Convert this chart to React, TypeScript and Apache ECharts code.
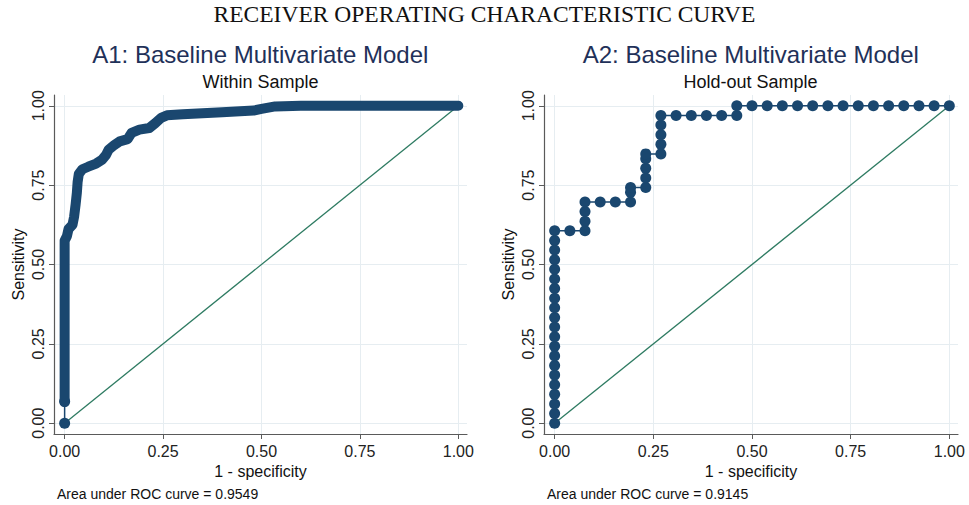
import React, { useEffect, useRef } from "react";
import * as echarts from "echarts";

// ---- Data ----
const tickValues = [0, 0.25, 0.5, 0.75, 1];
const mainTitle = "RECEIVER OPERATING CHARACTERISTIC CURVE";
const panelTitles = ["A1: Baseline Multivariate Model", "A2: Baseline Multivariate Model"];
const panelSubtitles = ["Within Sample", "Hold-out Sample"];
const aucValues = ["0.9549", "0.9145"];
const xAxisName = "1 - specificity";
const yAxisName = "Sensitivity";
const refLineX = [0, 1];
const refLineY = [0, 1];

// Within sample ROC (dense curve)
const withinTailFpr = [0, 0];
const withinTailTpr = [0, 0.068];
const withinFpr = [0, 0, 0.006, 0.01, 0.02, 0.024, 0.028, 0.031, 0.033, 0.036, 0.045, 0.06, 0.08, 0.095, 0.105, 0.112, 0.125, 0.14, 0.16, 0.17, 0.19, 0.215, 0.23, 0.245, 0.26, 0.3, 0.4, 0.48, 0.5, 0.535, 0.6, 1];
const withinTpr = [0.068, 0.575, 0.59, 0.612, 0.625, 0.65, 0.69, 0.725, 0.76, 0.785, 0.8, 0.808, 0.818, 0.83, 0.845, 0.862, 0.875, 0.888, 0.895, 0.915, 0.925, 0.93, 0.945, 0.962, 0.97, 0.973, 0.98, 0.985, 0.99, 0.998, 1, 1];

// Hold-out sample ROC
const holdoutFpr = [
  0, 0, 0, 0, 0, 0, 0, 0, 0, 0, 0, 0, 0, 0, 0, 0, 0, 0, 0, 0, 0,
  0.0385, 0.0769, 0.0769, 0.0769, 0.0769,
  0.1154, 0.1538, 0.1923, 0.1923, 0.1923,
  0.2308, 0.2308, 0.2308, 0.2308, 0.2308,
  0.2692, 0.2692, 0.2692, 0.2692, 0.2692,
  0.3077, 0.3462, 0.3846, 0.4231, 0.4615, 0.4615,
  0.5, 0.5385, 0.5769, 0.6154, 0.6538, 0.6923, 0.7308, 0.7692, 0.8077, 0.8462, 0.8846, 0.9231, 0.9615, 1,
];
const holdoutTpr = [
  0, 0.0303, 0.0606, 0.0909, 0.1212, 0.1515, 0.1818, 0.2121, 0.2424, 0.2727, 0.303, 0.3333, 0.3636, 0.3939, 0.4242, 0.4545, 0.4848, 0.5152, 0.5455, 0.5758, 0.6061,
  0.6061, 0.6061, 0.6364, 0.6667, 0.697,
  0.697, 0.697, 0.697, 0.7273, 0.7424,
  0.7424, 0.7727, 0.803, 0.8333, 0.8485,
  0.8485, 0.8788, 0.9091, 0.9394, 0.9697,
  0.9697, 0.9697, 0.9697, 0.9697, 0.9697, 1,
  1, 1, 1, 1, 1, 1, 1, 1, 1, 1, 1, 1, 1, 1,
];

const pairs = (xs: number[], ys: number[]) => xs.map((x, i) => [x, ys[i]]);

const NAVY = "#1a476f";
const GREEN = "#2e7b62";
const AXIS = "#5a5a5a";
const GRID = "#e6edf1";
const SANS = "Liberation Sans";

function makeXAxis(gridIndex: number) {
  return {
    type: "value",
    gridIndex,
    min: -0.027,
    max: 1.022,
    name: xAxisName,
    nameLocation: "middle",
    nameGap: 29,
    nameTextStyle: { fontSize: 16, color: "#111", fontFamily: SANS },
    axisLine: { show: true, onZero: false, lineStyle: { color: AXIS, width: 1.2 } },
    axisTick: { show: true, customValues: tickValues, length: 5, lineStyle: { color: AXIS, width: 1 } },
    axisLabel: {
      customValues: tickValues,
      formatter: (v: number) => v.toFixed(2),
      fontSize: 16,
      margin: 9,
      color: "#222",
      fontFamily: SANS,
    },
    splitLine: { show: true, lineStyle: { color: GRID, width: 1 } },
  };
}

function makeYAxis(gridIndex: number) {
  return {
    type: "value",
    gridIndex,
    min: -0.034,
    max: 1.034,
    name: yAxisName,
    nameLocation: "middle",
    nameGap: 28,
    nameRotate: 90,
    nameTextStyle: { fontSize: 16, color: "#111", fontFamily: SANS },
    axisLine: { show: true, onZero: false, lineStyle: { color: AXIS, width: 1.2 } },
    axisTick: { show: true, customValues: tickValues, length: 5, lineStyle: { color: AXIS, width: 1 } },
    axisLabel: {
      customValues: tickValues,
      formatter: (v: number) => v.toFixed(2),
      fontSize: 16,
      rotate: 90,
      margin: 8,
      color: "#222",
      fontFamily: SANS,
    },
    splitLine: { show: true, lineStyle: { color: GRID, width: 1 } },
  };
}

function titleItem(text: string, left: number, top: number, size: number, color: string, family: string, align = "center") {
  return {
    text,
    left,
    top,
    textAlign: align,
    padding: 0,
    textStyle: { fontFamily: family, fontSize: size, fontWeight: "normal", color },
  };
}

export default function App() {
  const ref = useRef<HTMLDivElement>(null);
  useEffect(() => {
    if (!ref.current) return;
    const chart = echarts.init(ref.current, undefined, { renderer: "svg" });
    const option: any = {
      animation: false,
      backgroundColor: "#ffffff",
      textStyle: { fontFamily: SANS },
      title: [
        titleItem(mainTitle, 484.5, 2, 23.5, "#111", "Liberation Serif"),
        titleItem(panelTitles[0], 260.3, 42, 24, "#1f3159", SANS),
        titleItem(panelSubtitles[0], 260.5, 72.5, 18, "#111", SANS),
        titleItem(panelTitles[1], 750.8, 42, 24, "#1f3159", SANS),
        titleItem(panelSubtitles[1], 750.5, 72.5, 18, "#111", SANS),
        titleItem("Area under ROC curve = " + aucValues[0], 57, 487, 14, "#111", SANS, "left"),
        titleItem("Area under ROC curve = " + aucValues[1], 547, 487, 14, "#111", SANS, "left"),
      ],
      grid: [
        { left: 54, top: 95, width: 413, height: 339 },
        { left: 544, top: 95, width: 414, height: 339 },
      ],
      xAxis: [makeXAxis(0), makeXAxis(1)],
      yAxis: [makeYAxis(0), makeYAxis(1)],
      series: [
        {
          type: "line",
          xAxisIndex: 0,
          yAxisIndex: 0,
          data: pairs(refLineX, refLineY),
          showSymbol: false,
          symbol: "none",
          lineStyle: { color: GREEN, width: 1.3 },
          z: 1,
          silent: true,
        },
        {
          type: "line",
          xAxisIndex: 0,
          yAxisIndex: 0,
          data: pairs(withinTailFpr, withinTailTpr),
          symbol: "circle",
          symbolSize: 11,
          itemStyle: { color: NAVY },
          lineStyle: { color: NAVY, width: 1.5 },
          z: 2,
          silent: true,
        },
        {
          type: "line",
          xAxisIndex: 0,
          yAxisIndex: 0,
          data: pairs(withinFpr, withinTpr),
          showSymbol: false,
          symbol: "none",
          lineStyle: { color: NAVY, width: 10, cap: "round", join: "round" },
          z: 3,
          silent: true,
        },
        {
          type: "line",
          xAxisIndex: 1,
          yAxisIndex: 1,
          data: pairs(refLineX, refLineY),
          showSymbol: false,
          symbol: "none",
          lineStyle: { color: GREEN, width: 1.3 },
          z: 1,
          silent: true,
        },
        {
          type: "line",
          xAxisIndex: 1,
          yAxisIndex: 1,
          data: pairs(holdoutFpr, holdoutTpr),
          symbol: "circle",
          symbolSize: 11,
          showAllSymbol: true,
          itemStyle: { color: NAVY },
          lineStyle: { color: NAVY, width: 1.5 },
          z: 3,
          silent: true,
        },
      ],
    };
    chart.setOption(option);
    return () => chart.dispose();
  }, []);
  return (
    <div
      ref={ref}
      style={{ position: "absolute", left: 0, top: 0, width: 969, height: 505, background: "#fff" }}
    />
  );
}
